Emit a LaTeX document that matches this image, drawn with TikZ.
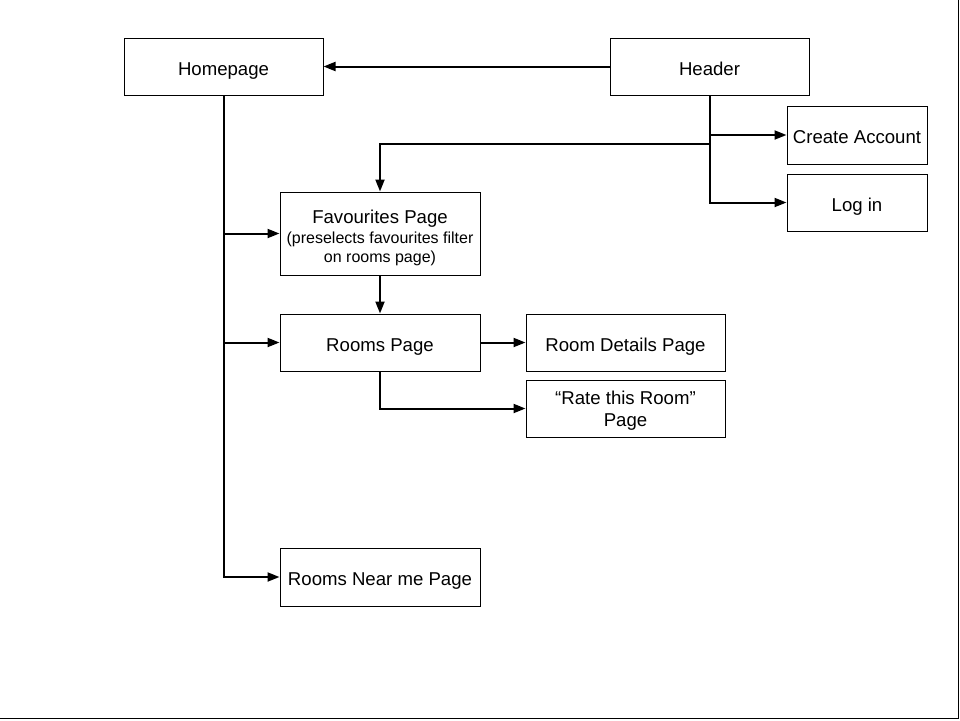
\documentclass[tikz,border=0pt]{standalone}
\usepackage{fontspec}
\setmainfont{Liberation Sans}
\usetikzlibrary{arrows.meta}
\begin{document}
\begin{tikzpicture}[x=1pt,y=-1pt,
  box/.style={draw, line width=1pt, inner sep=0pt, align=center,
    font=\fontsize{18.6}{22}\selectfont, text height=17pt, text depth=0pt},
  conn/.style={line width=2pt, -{Triangle[length=12pt,width=9pt]}}]
\useasboundingbox (0,0) rectangle (960,720);
\draw[line width=1.5pt] (0,718.5) -- (958.5,718.5) -- (958.5,0);

\node[box, minimum width=199pt, minimum height=57pt] (home) at (223.5,66.5) {Homepage};
\node[box, minimum width=199pt, minimum height=57pt] (header) at (709.5,66.5) {Header};
\node[box, minimum width=140pt, minimum height=58pt] (create) at (857,135) {Create Account};
\node[box, minimum width=140pt, minimum height=57pt] (login) at (857,202.5) {Log in};
\node[box, minimum width=200pt, minimum height=83pt, text height=57pt,
  font=\fontsize{18.6}{19}\selectfont] (fav) at (380,233.5)
  {Favourites Page\\[1pt]{\fontsize{16}{19}\selectfont (preselects favourites filter}\\{\fontsize{16}{19}\selectfont on rooms page)}};
\node[box, minimum width=200pt, minimum height=57pt] (rooms) at (380,342.5) {Rooms Page};
\node[box, minimum width=199pt, minimum height=57pt] (details) at (625.5,342.5) {Room Details Page};
\node[box, minimum width=199pt, minimum height=57pt, text height=36.5pt] (rate) at (625.5,408.5) {“Rate this Room”\\Page};
\node[box, minimum width=200pt, minimum height=58pt] (near) at (380,577) {Rooms Near me Page};

\coordinate (hsplit) at (710,144);

% header connectors
\draw[conn] (header.west) -- (home.east);
\draw[conn] (header.south) |- (login.west);
\draw[conn] (header.south |- create.west) -- (create.west);
\draw[conn] (hsplit) -| (fav.north);

% homepage connectors
\draw[conn] (home.south) |- (near.west);
\draw[conn] (home.south |- fav.west) -- (fav.west);
\draw[conn] (home.south |- rooms.west) -- (rooms.west);

% rooms connectors
\draw[conn] (fav.south) -- (rooms.north);
\draw[conn] (rooms.east) -- (details.west);
\draw[conn] (rooms.south) |- (rate.west);
\end{tikzpicture}
\end{document}
